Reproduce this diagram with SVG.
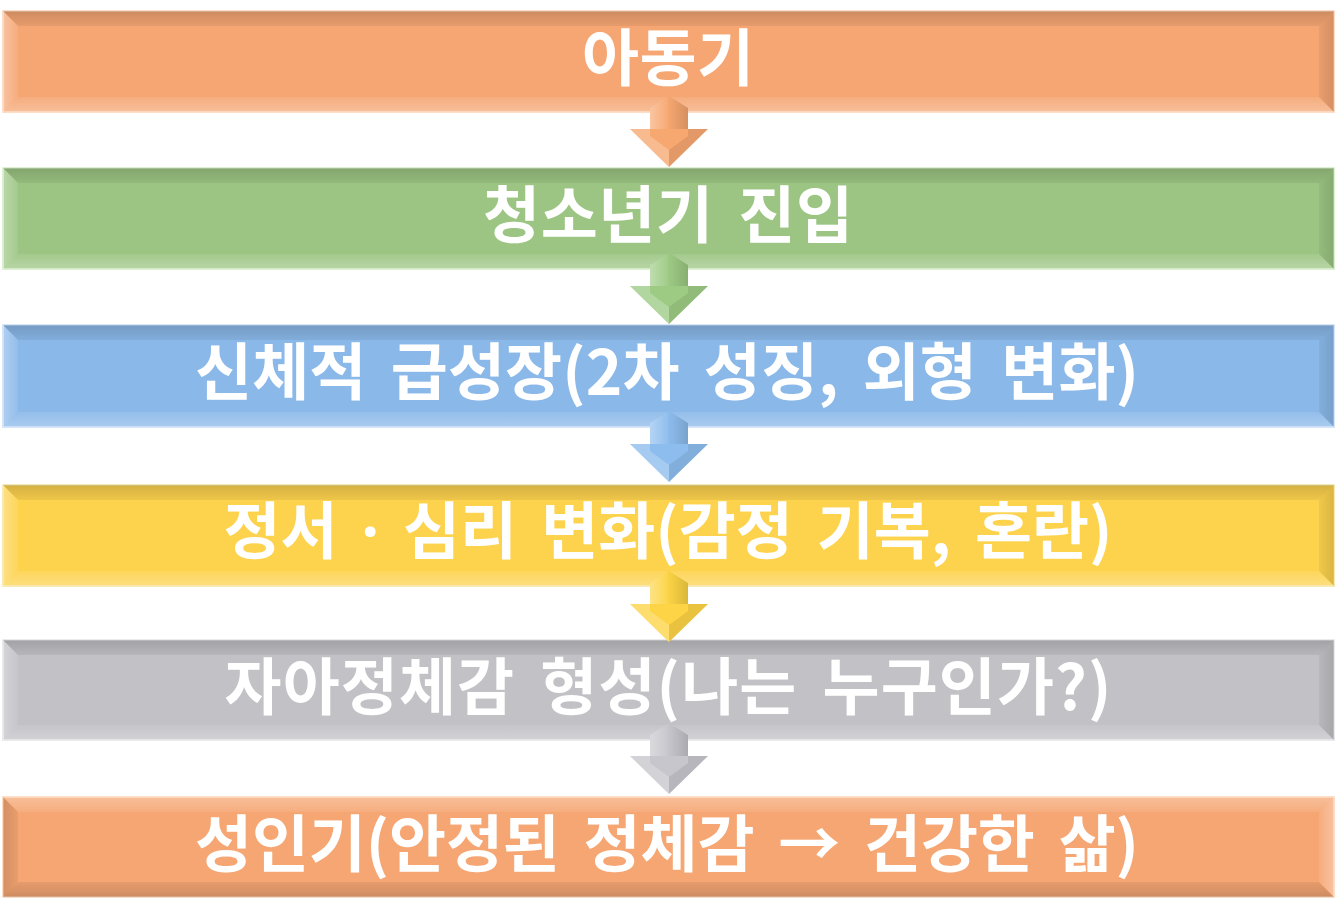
<svg xmlns="http://www.w3.org/2000/svg" width="1338" height="919" viewBox="0 0 1338 919">
<defs>
<linearGradient id="gTop" x1="0" y1="0" x2="0" y2="1"><stop offset="0" stop-color="#000" stop-opacity="0.16"/><stop offset="1" stop-color="#000" stop-opacity="0.06"/></linearGradient>
<linearGradient id="gBot" x1="0" y1="1" x2="0" y2="0"><stop offset="0" stop-color="#fff" stop-opacity="0.28"/><stop offset="1" stop-color="#fff" stop-opacity="0.08"/></linearGradient>
<linearGradient id="gLeft" x1="0" y1="0" x2="1" y2="0"><stop offset="0" stop-color="#fff" stop-opacity="0.32"/><stop offset="1" stop-color="#fff" stop-opacity="0.08"/></linearGradient>
<linearGradient id="gRight" x1="1" y1="0" x2="0" y2="0"><stop offset="0" stop-color="#000" stop-opacity="0.14"/><stop offset="1" stop-color="#000" stop-opacity="0.05"/></linearGradient>
<linearGradient id="gTopI" x1="0" y1="0" x2="0" y2="1"><stop offset="0" stop-color="#fff" stop-opacity="0.28"/><stop offset="1" stop-color="#fff" stop-opacity="0.08"/></linearGradient>
<linearGradient id="gBotI" x1="0" y1="1" x2="0" y2="0"><stop offset="0" stop-color="#000" stop-opacity="0.16"/><stop offset="1" stop-color="#000" stop-opacity="0.06"/></linearGradient>
<linearGradient id="gLeftI" x1="0" y1="0" x2="1" y2="0"><stop offset="0" stop-color="#000" stop-opacity="0.14"/><stop offset="1" stop-color="#000" stop-opacity="0.05"/></linearGradient>
<linearGradient id="gRightI" x1="1" y1="0" x2="0" y2="0"><stop offset="0" stop-color="#fff" stop-opacity="0.32"/><stop offset="1" stop-color="#fff" stop-opacity="0.08"/></linearGradient>
<linearGradient id="gShaft" x1="0" y1="0" x2="1" y2="0"><stop offset="0" stop-color="#fff" stop-opacity="0.35"/><stop offset="0.45" stop-color="#fff" stop-opacity="0.05"/><stop offset="0.55" stop-color="#000" stop-opacity="0.02"/><stop offset="1" stop-color="#000" stop-opacity="0.14"/></linearGradient>
<style>
.lbl{font-family:"Noto Sans CJK KR","Noto Sans CJK SC",sans-serif;font-weight:700;font-size:62px;fill:#fff;text-anchor:middle;word-spacing:10px}
.dot{font-family:"Noto Sans",sans-serif}
.orange{fill:#F5A673;stroke:#FBD3B6;stroke-width:1.5}
.green{fill:#9CC583;stroke:#D3EBC4;stroke-width:1.5}
.blue{fill:#8AB8E9;stroke:#C8DEF6;stroke-width:1.5}
.yellow{fill:#FDD24D;stroke:#F5E3A0;stroke-width:1.5}
.gray{fill:#C1C1C6;stroke:#E3E3E8;stroke-width:1.5}
.ao{fill:#F7A770}.ag{fill:#9DCB84}.ab{fill:#8DBDEE}.ay{fill:#FDD445}.agr{fill:#C6C6CC}
.light{fill:#fff;fill-opacity:0.22}.dark{fill:#000;fill-opacity:0.08}
</style>
</defs>

<g id="node1">
<rect class="orange" x="3" y="11" width="1331" height="101"/>
<polygon fill="url(#gTop)" points="3,11 1334,11 1319,26 18,26"/>
<polygon fill="url(#gBot)" points="3,112 1334,112 1319,97 18,97"/>
<polygon fill="url(#gLeft)" points="3,11 18,26 18,97 3,112"/>
<polygon fill="url(#gRight)" points="1334,11 1319,26 1319,97 1334,112"/>
<text class="lbl" x="668" y="81" textLength="172" lengthAdjust="spacing">아동기</text>
</g>

<g id="node2">
<rect class="green" x="3" y="168" width="1331" height="101"/>
<polygon fill="url(#gTop)" points="3,168 1334,168 1319,183 18,183"/>
<polygon fill="url(#gBot)" points="3,269 1334,269 1319,254 18,254"/>
<polygon fill="url(#gLeft)" points="3,168 18,183 18,254 3,269"/>
<polygon fill="url(#gRight)" points="1334,168 1319,183 1319,254 1334,269"/>
<text class="lbl" x="668" y="238" textLength="370" lengthAdjust="spacing">청소년기 진입</text>
</g>

<g id="node3">
<rect class="blue" x="3" y="325" width="1331" height="102"/>
<polygon fill="url(#gTop)" points="3,325 1334,325 1319,340 18,340"/>
<polygon fill="url(#gBot)" points="3,427 1334,427 1319,412 18,412"/>
<polygon fill="url(#gLeft)" points="3,325 18,340 18,412 3,427"/>
<polygon fill="url(#gRight)" points="1334,325 1319,340 1319,412 1334,427"/>
<text class="lbl" x="667" y="395" textLength="944" lengthAdjust="spacing">신체적 급성장(2차 성징, 외형 변화)</text>
</g>

<g id="node4">
<rect class="yellow" x="3" y="485" width="1331" height="101"/>
<polygon fill="url(#gTop)" points="3,485 1334,485 1319,500 18,500"/>
<polygon fill="url(#gBot)" points="3,586 1334,586 1319,571 18,571"/>
<polygon fill="url(#gLeft)" points="3,485 18,500 18,571 3,586"/>
<polygon fill="url(#gRight)" points="1334,485 1319,500 1319,571 1334,586"/>
<text class="lbl" x="668" y="554" textLength="889" lengthAdjust="spacing">정서 <tspan class="dot">·</tspan> 심리 변화(감정 기복, 혼란)</text>
</g>

<g id="node5">
<rect class="gray" x="3" y="640" width="1331" height="100"/>
<polygon fill="url(#gTop)" points="3,640 1334,640 1319,655 18,655"/>
<polygon fill="url(#gBot)" points="3,740 1334,740 1319,725 18,725"/>
<polygon fill="url(#gLeft)" points="3,640 18,655 18,725 3,740"/>
<polygon fill="url(#gRight)" points="1334,640 1319,655 1319,725 1334,740"/>
<text class="lbl" x="668" y="710" textLength="887" lengthAdjust="spacing">자아정체감 형성(나는 누구인가?)</text>
</g>

<g id="node6">
<rect class="orange" x="3" y="797" width="1331" height="100"/>
<polygon fill="url(#gTopI)" points="3,797 1334,797 1319,812 18,812"/>
<polygon fill="url(#gBotI)" points="3,897 1334,897 1319,882 18,882"/>
<polygon fill="url(#gLeftI)" points="3,797 18,812 18,882 3,897"/>
<polygon fill="url(#gRightI)" points="1334,797 1319,812 1319,882 1334,897"/>
<text class="lbl" x="667" y="867" textLength="944" lengthAdjust="spacing">성인기(안정된 정체감 → 건강한 삶)</text>
</g>

<g id="connectors">
<g id="arrow1">
<polygon class="ao" points="650,108 669,96 688,108 688,129 708,129 669,167 630,129 650,129"/>
<polygon fill="url(#gShaft)" points="650,108 669,96 688,108 688,129 650,129"/>
<polygon class="light" points="630,129 650,129 650,136 669,150 669,167"/>
<polygon class="dark" points="708,129 688,129 688,136 669,150 669,167"/>
</g>
<g id="arrow2">
<polygon class="ag" points="650,265 669,253 688,265 688,286 708,286 669,324 630,286 650,286"/>
<polygon fill="url(#gShaft)" points="650,265 669,253 688,265 688,286 650,286"/>
<polygon class="light" points="630,286 650,286 650,293 669,307 669,324"/>
<polygon class="dark" points="708,286 688,286 688,293 669,307 669,324"/>
</g>
<g id="arrow3">
<polygon class="ab" points="650,423 669,411 688,423 688,444 708,444 669,482 630,444 650,444"/>
<polygon fill="url(#gShaft)" points="650,423 669,411 688,423 688,444 650,444"/>
<polygon class="light" points="630,444 650,444 650,451 669,465 669,482"/>
<polygon class="dark" points="708,444 688,444 688,451 669,465 669,482"/>
</g>
<g id="arrow4">
<polygon class="ay" points="650,583 669,571 688,583 688,604 708,604 669,642 630,604 650,604"/>
<polygon fill="url(#gShaft)" points="650,583 669,571 688,583 688,604 650,604"/>
<polygon class="light" points="630,604 650,604 650,611 669,625 669,642"/>
<polygon class="dark" points="708,604 688,604 688,611 669,625 669,642"/>
</g>
<g id="arrow5">
<polygon class="agr" points="650,735 669,723 688,735 688,756 708,756 669,794 630,756 650,756"/>
<polygon fill="url(#gShaft)" points="650,735 669,723 688,735 688,756 650,756"/>
<polygon class="light" points="630,756 650,756 650,763 669,777 669,794"/>
<polygon class="dark" points="708,756 688,756 688,763 669,777 669,794"/>
</g>
</g>
</svg>
